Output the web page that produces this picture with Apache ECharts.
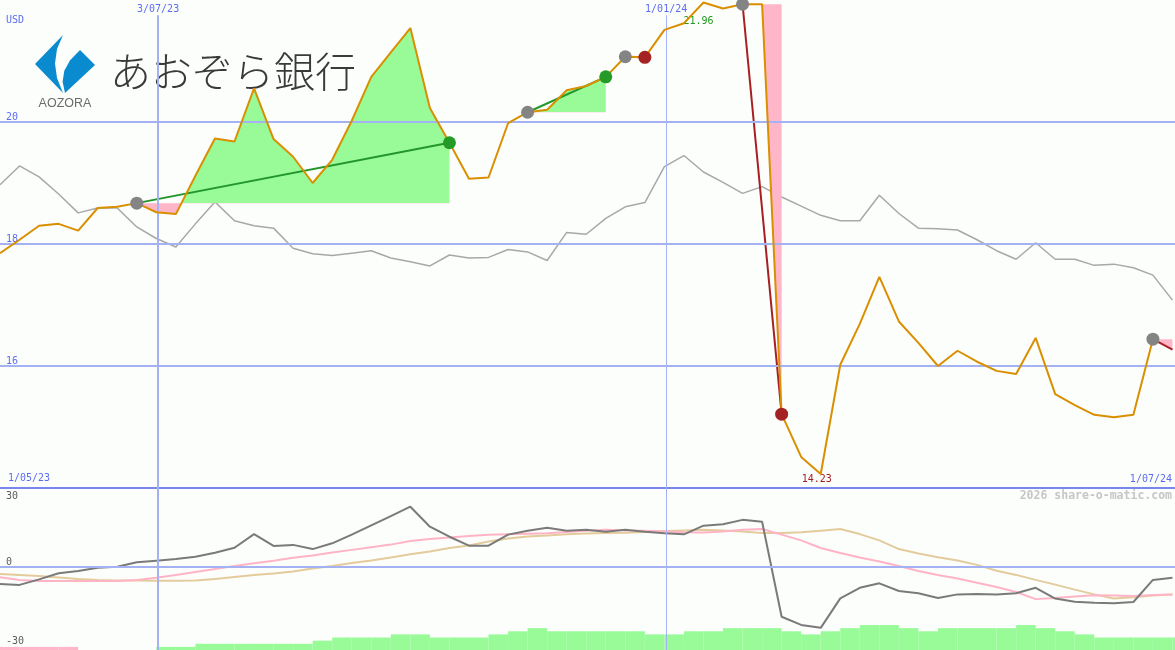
<!DOCTYPE html>
<html><head><meta charset="utf-8">
<script src="https://cdn.jsdelivr.net/npm/echarts@6/dist/echarts.min.js"></script>
<style>html,body{margin:0;padding:0;background:#fcfefc}#c{width:1175px;height:650px}</style>
</head><body><div id="c"></div>
<script>
// ---------- data (weekly points, index 0..60) ----------
const price = [17.85,18.07,18.30,18.33,18.22,18.59,18.61,18.67,18.52,18.49,
 19.12,19.73,19.68,20.55,19.72,19.43,19.00,19.38,20.02,20.74,
 21.14,21.54,20.23,19.66,19.07,19.09,19.98,20.16,20.20,20.52,
 20.59,20.74,21.07,21.06,21.51,21.62,21.96,21.86,21.93,21.93,
 15.21,14.51,14.23,16.02,16.69,17.46,16.73,16.38,16.00,16.25,
 16.07,15.92,15.87,16.46,15.54,15.36,15.20,15.16,15.20,16.44];
const lastQuote = 16.27; // open position mark (week 60)
const compare = [18.97,19.28,19.10,18.82,18.51,18.59,18.59,18.28,18.09,17.95,
 18.33,18.69,18.38,18.30,18.26,17.93,17.84,17.81,17.85,17.89,
 17.77,17.71,17.64,17.82,17.77,17.78,17.91,17.87,17.73,18.19,
 18.16,18.42,18.61,18.68,19.27,19.45,19.18,19.01,18.83,18.94,
 18.77,18.62,18.47,18.38,18.38,18.80,18.50,18.26,18.25,18.23,
 18.07,17.89,17.75,18.02,17.75,17.75,17.65,17.67,17.61,17.49,17.08];
const oscDark = [-6.5,-6.8,-4.7,-2.4,-1.5,-0.3,0.1,1.8,2.4,3.0,
 3.9,5.4,7.3,12.5,8.0,8.4,6.8,9.0,12.3,15.8,
 19.3,22.9,15.3,11.5,8.1,8.1,12.3,13.8,14.9,13.8,
 14.1,13.4,14.1,13.4,12.8,12.4,15.7,16.2,17.9,17.2,
 -18.9,-22.0,-23.1,-11.9,-7.9,-6.2,-9.1,-10.0,-11.8,-10.4,
 -10.3,-10.4,-10.0,-7.9,-12.0,-13.2,-13.6,-13.8,-13.3,-4.9,-4.1];
const oscPink = [-3.9,-4.9,-5.3,-5.3,-5.3,-5.3,-5.3,-4.9,-4.1,-3.0,
 -1.9,-0.8,0.4,1.4,2.4,3.5,4.4,5.5,6.5,7.5,
 8.5,9.9,10.6,11.2,11.8,12.2,12.4,12.6,12.8,13.3,
 13.8,14.1,13.9,13.8,13.5,13.2,13.1,13.5,14.1,14.4,
 12.3,10.1,7.2,5.3,3.6,2.1,0.4,-1.5,-3.0,-4.4,
 -6.0,-7.6,-9.5,-12.2,-11.8,-11.2,-10.7,-10.8,-11.0,-10.6,-10.4];
const oscTan = [-2.7,-3.0,-3.4,-4.0,-4.6,-4.9,-5.1,-5.1,-5.2,-5.2,
 -5.1,-4.6,-3.8,-3.0,-2.5,-1.7,-0.6,0.4,1.5,2.5,
 3.6,4.8,5.9,7.2,8.2,9.7,10.8,11.6,12.0,12.4,
 12.7,12.9,13.0,13.3,13.7,13.9,14.1,13.9,13.5,12.9,
 12.9,13.2,13.8,14.4,12.5,10.1,6.8,5.1,3.7,2.5,
 0.8,-1.4,-3.0,-4.9,-6.7,-8.6,-10.4,-12.0,-11.5,-10.8,-10.4];
const volLevels = [-1,-1,-1,-1,0,0,0,0,1,1,
 2,2,2,2,2,2,3,4,4,4,
 5,5,4,4,4,5,6,7,6,6,
 6,6,6,5,5,6,6,7,7,7,
 6,5,6,7,8,8,7,6,7,7,
 7,7,8,7,6,5,4,4,4,4,4];
const tradeStart = [7, 27, 32, 38, 59];
const tradeEnd   = [23, 31, 33, 40, 60];
const tradeClosed = [true, true, true, true, false];
const priceTicks = [16, 18, 20];
const oscTicks = [-30, 0, 30];
const dateLineIdx = [8.09, 34.09];
const dateLineLabels = ['3/07/23', '1/01/24'];
const edgeDates = ['1/05/23', '1/07/24'];
const unitLabel = 'USD';
const logoText = 'あおぞら銀行';
const logoSub = 'AOZORA';
const watermark = '2026 share-o-matic.com';

// ---------- styles ----------
const BG = '#fcfefc', GRID = '#a4b2f4', AXIS = '#7886ee', BLUE = '#5c6cf2';
const ORANGE = '#d98f00', GRAY = '#a8a8a8', GREEN = '#23962a', RED = '#a61f22';
const FILLG = '#98fb98', FILLP = '#ffb6c8', MGRAY = '#848484';
const MONO = '"DejaVu Sans Mono", monospace';
const X_MAX = 60.13, TOP_LINE_Y = 21.75;
const dateLineWidth = [2, 1];

const chart = echarts.init(document.getElementById('c'));
const priceExt = price.concat([lastQuote]);
const series = [], visualMaps = [];

// grid lines (main)
series.push({type:'line', xAxisIndex:0, yAxisIndex:0, data:[], z:0, silent:true,
  markLine:{silent:true, symbol:'none', animation:false, label:{show:false},
    data: priceTicks.map(v => ({yAxis:v, lineStyle:{color:GRID, width:2, type:'solid'}}))
      .concat(dateLineIdx.map((x,k) => [
        {coord:[x, TOP_LINE_Y], name:dateLineLabels[k],
         lineStyle:{color:GRID, width:dateLineWidth[k], type:'solid'},
         label:{show:true, position:'start', distance:1, formatter:'{b}', color:BLUE, fontFamily:MONO, fontSize:10}},
        {coord:[x, 14]}]))
  }});
// grid lines (oscillator)
series.push({type:'line', xAxisIndex:1, yAxisIndex:1, data:[], z:0, silent:true,
  markLine:{silent:true, symbol:'none', animation:false, label:{show:false},
    data: [{yAxis:0, lineStyle:{color:GRID, width:2, type:'solid'}}]
      .concat(dateLineIdx.map((x,k) => ({xAxis:x, lineStyle:{color:GRID, width:dateLineWidth[k], type:'solid'}})))
  }});

// comparison line
series.push({type:'line', xAxisIndex:0, yAxisIndex:0, z:2, symbol:'none', silent:true,
  data: compare.map((v,i)=>[i,v]), lineStyle:{color:GRAY, width:1.5}});

// trade fills (green above entry price, pink below)
tradeStart.forEach((s,k) => {
  const e = tradeEnd[k], base = priceExt[s];
  const d = [];
  for (let i=s;i<=e;i++) d.push([i, priceExt[i]]);
  series.push({type:'line', xAxisIndex:0, yAxisIndex:0, z:3, symbol:'none', silent:true, data:d,
    lineStyle:{width:0, opacity:0}, areaStyle:{origin:base, opacity:1}});
  visualMaps.push({type:'piecewise', show:false, seriesIndex:series.length-1, dimension:1,
    pieces:[{gte:0, lt:base, color:FILLP}, {gte:base, lte:100, color:FILLG}]});
});
// trade lines
tradeStart.forEach((s,k) => {
  const e = tradeEnd[k];
  const win = priceExt[e] >= priceExt[s];
  series.push({type:'line', xAxisIndex:0, yAxisIndex:0, z:4, symbol:'none', silent:true,
    data:[[s, priceExt[s]], [e, priceExt[e]]], lineStyle:{color: win?GREEN:RED, width:2}});
});
// price
series.push({type:'line', xAxisIndex:0, yAxisIndex:0, z:5, symbol:'none', silent:true,
  data: price.map((v,i)=>[i,v]), lineStyle:{color:ORANGE, width:2},
  markPoint:{symbol:'circle', symbolSize:1, itemStyle:{color:'rgba(0,0,0,0)'}, animation:false,
    label:{show:true, position:'inside', fontFamily:MONO, fontSize:10, formatter:p=>Number(p.value).toFixed(2)},
    data:[{type:'max', valueDim:'y', label:{offset:[-5,19], color:'#1f9a1f'}},
          {type:'min', valueDim:'y', label:{offset:[-4,5], color:'#a61f22'}}]}});
// markers
const markers = [];
tradeStart.forEach((s,k) => {
  markers.push({value:[s, priceExt[s]], itemStyle:{color:MGRAY, opacity:1}});
  if (tradeClosed[k]) {
    const e = tradeEnd[k];
    markers.push({value:[e, priceExt[e]], itemStyle:{color: priceExt[e]>=priceExt[s]?'#269a26':'#a52222', opacity:1}});
  }
});
series.push({type:'scatter', xAxisIndex:0, yAxisIndex:0, z:6, silent:true, symbolSize:13,
  itemStyle:{opacity:1}, data:markers});

// oscillator lines
[[oscTan,'#e3cb9c'],[oscPink,'#ffb4c6'],[oscDark,'#7a7a7a']].forEach(([arr,c]) => {
  series.push({type:'line', xAxisIndex:1, yAxisIndex:1, z:3, symbol:'none', silent:true,
    data: arr.map((v,i)=>[i,v]), lineStyle:{color:c, width:2}});
});
// volume-like bars
series.push({type:'custom', xAxisIndex:1, yAxisIndex:2, z:2, silent:true, clip:true,
  data: volLevels.map((v,i)=>[i,v]),
  renderItem:(params, api) => {
    const i = api.value(0), v = api.value(1);
    if (!v) return null;
    const p0 = api.coord([i, 0]), p1 = api.coord([i+1, Math.abs(v)]);
    return {type:'rect', shape:{x:p0[0], y:p1[1], width:p1[0]-p0[0], height:p0[1]-p1[1]},
      style:{fill: v<0?FILLP:FILLG}};
  }});

const hiddenX = {type:'value', min:0, max:X_MAX, axisLabel:{show:false}, axisTick:{show:false}, splitLine:{show:false}};
chart.setOption({
  backgroundColor: BG,
  animation:false,
  grid:[{left:0, right:0, top:0, height:488}, {left:0, right:0, top:488, height:162}],
  xAxis:[Object.assign({gridIndex:0, axisLine:{show:true, onZero:false, lineStyle:{color:AXIS, width:2}}}, hiddenX),
         Object.assign({gridIndex:1, axisLine:{show:false}}, hiddenX)],
  yAxis:[
    {type:'value', gridIndex:0, min:14, max:22, splitLine:{show:false}, axisLine:{show:false}, axisTick:{show:false},
     axisLabel:{inside:true, margin:6, customValues:priceTicks, color:BLUE, fontFamily:MONO, fontSize:10, verticalAlign:'bottom', align:'left'}},
    {type:'value', gridIndex:1, min:-31.52, max:30, splitLine:{show:false}, axisLine:{show:false}, axisTick:{show:false},
     axisLabel:{inside:true, margin:6, customValues:oscTicks, color:'#5a5a5a', fontFamily:MONO, fontSize:10, verticalAlign:'middle', align:'left',
       formatter: v => (v >= 30 ? '{dn|' + v + '}' : '{up|' + v + '}'),
       rich:{dn:{padding:[16,0,0,0], color:'#5a5a5a', fontFamily:MONO, fontSize:10},
             up:{padding:[0,0,10,0], color:'#5a5a5a', fontFamily:MONO, fontSize:10}}}},
    {type:'value', gridIndex:1, min:0, max:51.9, show:false}
  ],
  visualMap: visualMaps,
  series: series,
  graphic:[
    {type:'rect', z:0.5, silent:true, shape:{x:28, y:33, width:335, height:75}, style:{fill:BG}},
    {type:'polygon', z:1, silent:true, shape:{points:[[63,35],[35,64],[63,93],[57,78],[55,63.5],[57,49]]}, style:{fill:'#0a8bd0'}},
    {type:'polygon', z:1, silent:true, shape:{points:[[80,50],[95,65],[65,93],[62.6,81.7],[64.3,70.8],[70.1,60.2]]}, style:{fill:'#0a8bd0'}},
    {type:'text', z:1, silent:true, x:110, y:71, style:{text:logoText, fill:'#3a3a3a', font:'300 41px "Noto Sans CJK JP"', verticalAlign:'middle', align:'left'}},
    {type:'text', z:1, silent:true, x:65, y:104, style:{text:logoSub, fill:'#6b6b6b', font:'12.5px "Liberation Sans"', verticalAlign:'middle', align:'center'}},
    {type:'text', z:1, silent:true, x:6, y:20, style:{text:unitLabel, fill:BLUE, font:'10px ' + MONO, verticalAlign:'middle', align:'left'}},
    {type:'text', z:1, silent:true, x:8, y:478, style:{text:edgeDates[0], fill:BLUE, font:'10px ' + MONO, verticalAlign:'middle', align:'left'}},
    {type:'text', z:1, silent:true, x:1172, y:479, style:{text:edgeDates[1], fill:BLUE, font:'10px ' + MONO, verticalAlign:'middle', align:'right'}},
    {type:'text', z:1, silent:true, x:1172, y:496, style:{text:watermark, fill:'#c6c6c6', font:'bold 11.5px ' + MONO, verticalAlign:'middle', align:'right'}}
  ]
});
</script></body></html>
